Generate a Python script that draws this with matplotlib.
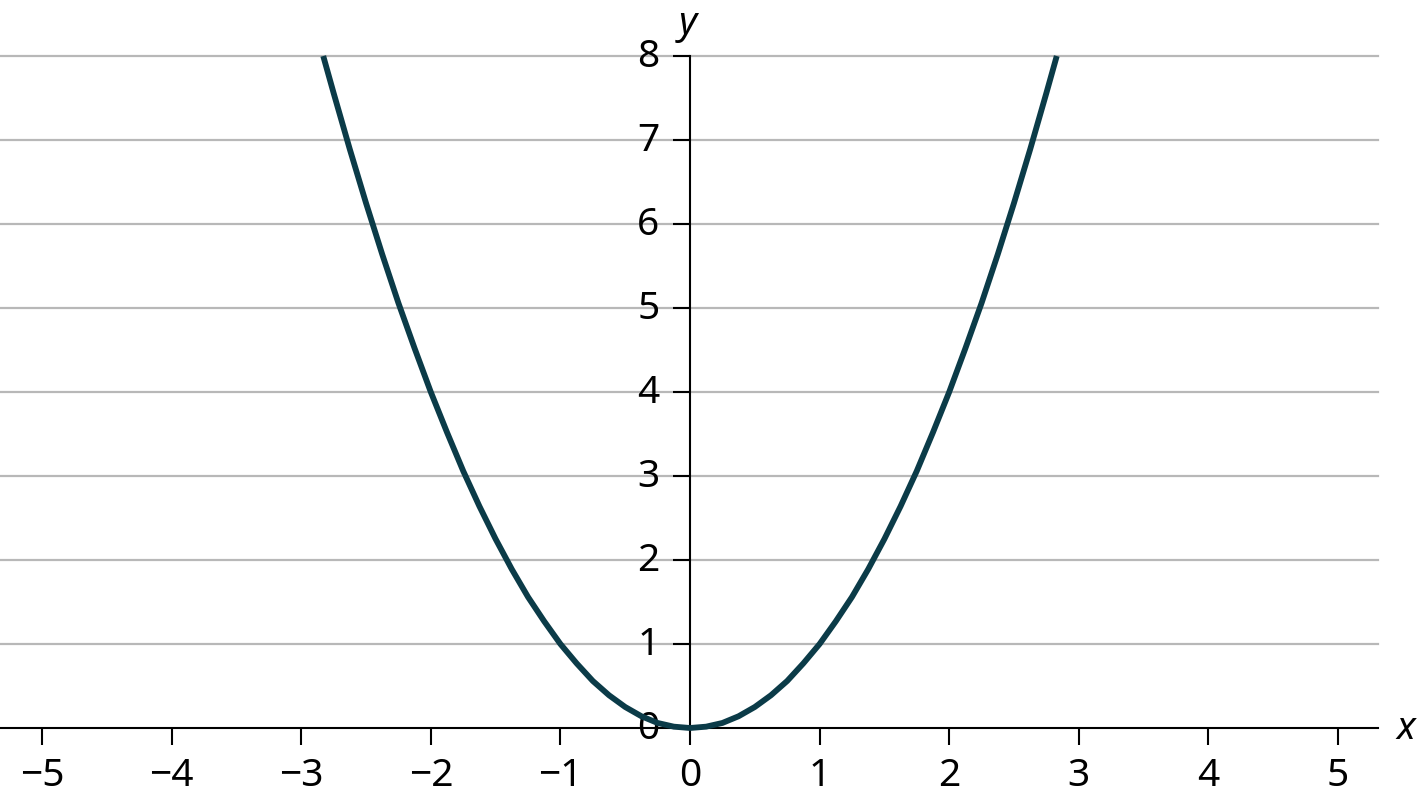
import matplotlib
matplotlib.use('Agg')
from matplotlib import pyplot as plt

# points
xs = [-2.83, -2.75, -2.625, -2.5, -2.375, -2.25, -2.125, -2.0, -1.875, -1.75, -1.625,
      -1.5, -1.375, -1.25, -1.125, -1.0, -0.875, -0.75, -0.625, -0.5, -0.375, -0.25,
      -0.125, 0.0, 0.125, 0.25, 0.375, 0.5, 0.625, 0.75, 0.875, 1.0, 1.125, 1.25,
      1.375, 1.5, 1.625, 1.75, 1.875, 2.0, 2.125, 2.25, 2.375, 2.5, 2.625, 2.75, 2.83]
ys = [8.0, 7.56, 6.89, 6.25, 5.64, 5.06, 4.52, 4.0, 3.52, 3.06, 2.64,
      2.25, 1.89, 1.56, 1.27, 1.0, 0.77, 0.56, 0.39, 0.25, 0.14, 0.06,
      0.016, 0.0, 0.016, 0.06, 0.14, 0.25, 0.39, 0.56, 0.77, 1.0, 1.27, 1.56,
      1.89, 2.25, 2.64, 3.06, 3.52, 4.0, 4.52, 5.06, 5.64, 6.25, 6.89, 7.56, 8.0]
xticks = [-5, -4, -3, -2, -1, 0, 1, 2, 3, 4, 5]
yticks = [0, 1, 2, 3, 4, 5, 6, 7, 8]

plt.rcParams['font.family'] = ['Noto Sans', 'DejaVu Sans']

W, H = 1417, 804
fig = plt.figure(figsize=(W / 100, H / 100), dpi=100)
ax = fig.add_axes([0, (H - 729) / H, 1378 / W, (729 - 57) / H])
ax.set_xlim(-690 / 129.6, (1378 - 690) / 129.6)
ax.set_ylim(0, 8)

for y in yticks[1:]:
    ax.axhline(y, color='#b8b8b8', lw=1.6, zorder=0, clip_on=False)

ax.plot(xs, ys, color='#0b3b48', lw=4.2, clip_on=False, zorder=3,
        solid_joinstyle='round', solid_capstyle='butt')

for s in ['top', 'right']:
    ax.spines[s].set_visible(False)
ax.spines['left'].set_position(('data', 0))
ax.spines['bottom'].set_position(('data', 0))
ax.spines['left'].set_linewidth(1.5)
ax.spines['bottom'].set_linewidth(1.5)

ax.set_xticks(xticks)
ax.set_yticks(yticks)
ax.tick_params(axis='x', direction='out', length=12, width=1.5, pad=8, labelsize=28)
ax.tick_params(axis='y', direction='out', length=12, width=1.5, pad=10, labelsize=28)
for lab in ax.get_yticklabels():
    lab.set_va('center')

fig.text(688 / W, 1 - 24 / H, 'y', style='italic', fontsize=28, ha='center', va='center')
fig.text(1406 / W, 1 - 729 / H, 'x', style='italic', fontsize=28, ha='center', va='center')

fig.savefig('out.png', dpi=100)
